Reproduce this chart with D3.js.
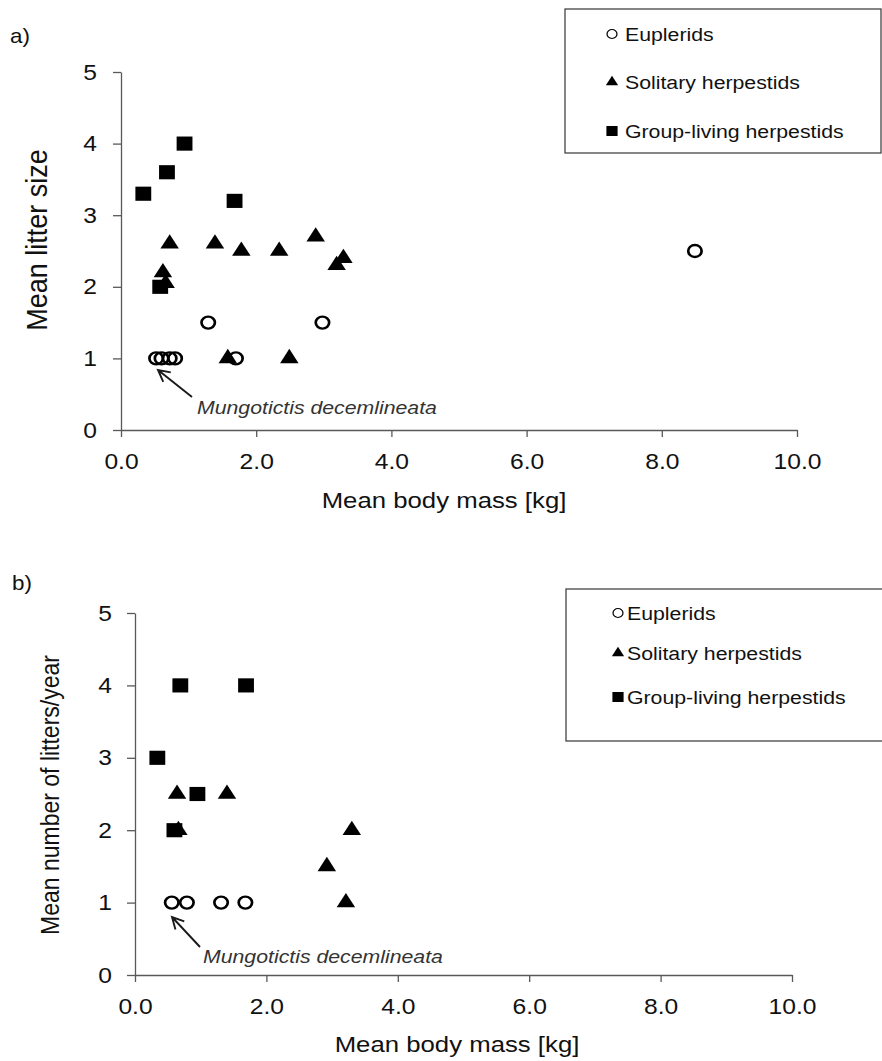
<!DOCTYPE html>
<html>
<head>
<meta charset="utf-8">
<script src="https://cdn.jsdelivr.net/npm/d3@7"></script>
<style>
  body { margin: 0; background: #fff; }
  svg { display: block; font-family: "Liberation Sans", Arial, sans-serif; }
</style>
</head>
<body>
<svg id="chart" width="882" height="1061"></svg>
<script>
// panel a) mean litter size vs body mass
const euplMassA = [0.52, 0.60, 0.72, 0.80, 1.29, 1.70, 2.98, 8.49];
const euplLitterA = [1, 1, 1, 1, 1.5, 1, 1.5, 2.5];
const soliMassA = [0.72, 0.62, 0.66, 1.39, 1.78, 2.34, 2.88, 3.29, 3.19, 1.58, 2.49];
const soliLitterA = [2.6, 2.2, 2.05, 2.6, 2.5, 2.5, 2.7, 2.4, 2.3, 1.0, 1.0];
const groupMassA = [0.33, 0.68, 0.94, 1.68, 0.58];
const groupLitterA = [3.3, 3.6, 4.0, 3.2, 2.0];

// panel b) mean number of litters per year vs body mass
const euplMassB = [0.56, 0.79, 1.31, 1.68];
const euplLittersB = [1, 1, 1, 1];
const soliMassB = [0.64, 0.66, 1.40, 3.30, 2.92, 3.21];
const soliLittersB = [2.5, 2.0, 2.5, 2.0, 1.5, 1.0];
const groupMassB = [0.69, 1.69, 0.34, 0.95, 0.60];
const groupLittersB = [4, 4, 3, 2.5, 2];

const seriesNames = ["Euplerids", "Solitary herpestids", "Group-living herpestids"];
const xTicks = [0, 2, 4, 6, 8, 10];
const yTicks = [0, 1, 2, 3, 4, 5];
const xTitle = "Mean body mass [kg]";
const noteText = "Mungotictis decemlineata";

const SX = 1.12; // the source figure is stretched sideways a little
const AXIS = "#595959";

const svg = d3.select("#chart");

const zip = (xs, ys) => xs.map((v, i) => ({ x: v, y: ys[i] }));

// stretch a text sideways around its own anchor
const stretch = function (sel) {
    sel.each(function () {
        let t = d3.select(this);
        let x = +t.attr("x") || 0;
        t.attr("x", x / SX).attr("transform", `scale(${SX},1)`);
    });
};

const drawMarks = function (g, data, shape, x, y) {
    let sym = d3.symbol().type(shape.type).size(shape.size);
    g.selectAll(null)
        .data(data)
        .join("path")
        .attr("d", sym)
        .attr("transform", d => `translate(${x(d.x)},${y(d.y)}) scale(${SX},1)`)
        .attr("fill", shape.fill)
        .attr("stroke", shape.stroke)
        .attr("stroke-width", shape.sw);
};

const SHAPES = [
    { type: d3.symbolCircle, size: 113, fill: "none", stroke: "#000", sw: 2.4 },
    { type: d3.symbolTriangle, size: 118, fill: "#000", stroke: "none", sw: 0 },
    { type: d3.symbolSquare, size: 200, fill: "#000", stroke: "none", sw: 0 }
];
const LEG_SHAPES = [
    { type: d3.symbolCircle, size: 62, fill: "none", stroke: "#000", sw: 1.1 },
    { type: d3.symbolTriangle, size: 52, fill: "#000", stroke: "none", sw: 0 },
    { type: d3.symbolSquare, size: 100, fill: "#000", stroke: "none", sw: 0 }
];

const drawPanel = function (p) {
    let g = svg.append("g");
    let x = d3.scaleLinear().domain([0, 10]).range([p.left, p.right]);
    let y = d3.scaleLinear().domain([0, 5]).range([p.bottom, p.top]);

    let xa = g.append("g")
        .attr("transform", `translate(0,${p.bottom})`)
        .call(d3.axisBottom(x).tickValues(xTicks).tickFormat(d3.format(".1f"))
            .tickSize(7).tickSizeOuter(0).tickPadding(16));
    let ya = g.append("g")
        .attr("transform", `translate(${p.left},0)`)
        .call(d3.axisLeft(y).tickValues(yTicks).tickFormat(d3.format("d"))
            .tickSize(8).tickSizeOuter(0).tickPadding(p.yPad));

    [xa, ya].forEach(a => {
        a.select(".domain").attr("stroke", AXIS).attr("stroke-width", 1.3);
        a.selectAll(".tick line").attr("stroke", AXIS).attr("stroke-width", 1.3);
        a.selectAll(".tick text").attr("font-size", 22).attr("fill", "#111")
            .attr("font-family", "Liberation Sans, Arial, sans-serif").call(stretch);
    });

    // points, drawn series by series like the spreadsheet did
    p.series.forEach((s, i) => drawMarks(g, s, SHAPES[i], x, y));

    // axis titles
    g.append("text")
        .attr("transform", `translate(${p.xTitle[0]},${p.xTitle[1]}) scale(${SX},1)`)
        .attr("text-anchor", "middle").attr("font-size", 23).attr("fill", "#111")
        .text(xTitle);
    g.append("text")
        .attr("transform", `translate(${p.yTitle[0]},${p.yTitle[1]}) scale(${SX},1) rotate(-90)`)
        .attr("text-anchor", "middle").attr("dy", "0.35em")
        .attr("font-size", p.yTitleSize).attr("fill", "#111")
        .text(p.yLabel);

    // panel letter
    g.append("text")
        .attr("transform", `translate(${p.letter[0]},${p.letter[1]}) scale(${SX},1)`)
        .attr("font-size", 20).attr("fill", "#111")
        .text(p.letterText);

    // species note with open arrow
    let [tx, ty, hx, hy] = p.arrow;
    let ang = Math.atan2(hy - ty, hx - tx);
    let ah = 13, spread = Math.PI / 6.5;
    let arrow = d3.path();
    arrow.moveTo(tx, ty); arrow.lineTo(hx, hy);
    arrow.moveTo(hx - ah * Math.cos(ang - spread), hy - ah * Math.sin(ang - spread));
    arrow.lineTo(hx, hy);
    arrow.lineTo(hx - ah * Math.cos(ang + spread), hy - ah * Math.sin(ang + spread));
    g.append("path").attr("d", arrow.toString())
        .attr("fill", "none").attr("stroke", "#1a1a1a").attr("stroke-width", 1.9);
    g.append("text")
        .attr("transform", `translate(${p.note[0]},${p.note[1]}) scale(${SX},1)`)
        .attr("font-size", 19).attr("font-style", "italic").attr("fill", "#333")
        .text(noteText);

    // legend box
    let lg = g.append("g");
    lg.append("rect")
        .attr("x", p.legend.x).attr("y", p.legend.y)
        .attr("width", p.legend.w).attr("height", p.legend.h)
        .attr("fill", "#fff").attr("stroke", "#444").attr("stroke-width", 1.3);
    seriesNames.forEach((name, i) => {
        let cy = p.legend.rows[i];
        let sym = d3.symbol().type(LEG_SHAPES[i].type).size(LEG_SHAPES[i].size);
        lg.append("path").attr("d", sym)
            .attr("transform", `translate(${p.legend.mx},${cy}) scale(${SX},1)`)
            .attr("fill", LEG_SHAPES[i].fill).attr("stroke", LEG_SHAPES[i].stroke)
            .attr("stroke-width", LEG_SHAPES[i].sw);
        lg.append("text")
            .attr("transform", `translate(${p.legend.tx},${cy + 7}) scale(${SX},1)`)
            .attr("font-size", 19).attr("fill", "#111")
            .text(name);
    });
};

drawPanel({
    left: 121, right: 797, top: 72, bottom: 430, yPad: 16,
    series: [zip(euplMassA, euplLitterA), zip(soliMassA, soliLitterA), zip(groupMassA, groupLitterA)],
    xTitle: [444, 508], yTitle: [36, 240], yTitleSize: 27, yLabel: "Mean litter size",
    letter: [10, 43], letterText: "a)",
    arrow: [192, 397, 158, 370], note: [197, 414],
    legend: { x: 565, y: 9, w: 316, h: 144, rows: [34, 82, 131], mx: 612, tx: 625 }
});

drawPanel({
    left: 135, right: 792, top: 613, bottom: 975, yPad: 15,
    series: [zip(euplMassB, euplLittersB), zip(soliMassB, soliLittersB), zip(groupMassB, groupLittersB)],
    xTitle: [457, 1052], yTitle: [50, 795], yTitleSize: 23, yLabel: "Mean number of litters/year",
    letter: [12, 590], letterText: "b)",
    arrow: [200, 947, 172, 917], note: [203, 963],
    legend: { x: 566, y: 589, w: 330, h: 152, rows: [613, 653, 697], mx: 618, tx: 627 }
});
</script>
</body>
</html>
